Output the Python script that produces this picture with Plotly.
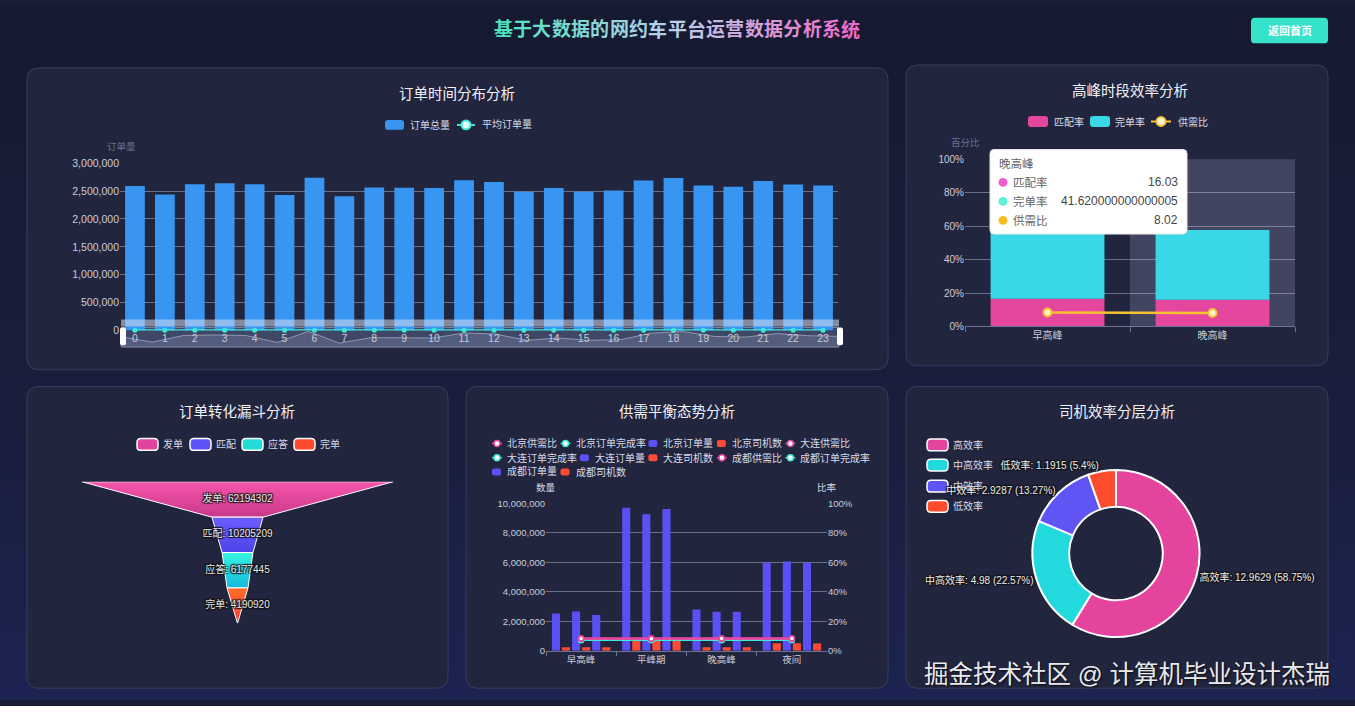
import base64
import plotly.graph_objects as go

# the page adds a few pixels below the figure, so the figure is drawn 706 px tall
W, H = 1355, 706


def X(px):
    return px / W


def Y(py):
    return 1 - py / H


FONT = "'Liberation Sans', 'Noto Sans CJK SC', 'Noto Sans', sans-serif"

# ---------------- data ----------------
page_title = "基于大数据的网约车平台运营数据分析系统"
button_text = "返回首页"
panel_titles = ["订单时间分布分析", "高峰时段效率分析", "订单转化漏斗分析", "供需平衡态势分析", "司机效率分层分析"]
watermark = "掘金技术社区 @ 计算机毕业设计杰瑞"

# chart 1: orders by hour
hours = [str(h) for h in range(24)]
order_total = [2590000, 2440000, 2625000, 2640000, 2625000, 2430000, 2740000, 2410000,
               2565000, 2560000, 2555000, 2695000, 2665000, 2490000, 2555000, 2490000,
               2510000, 2690000, 2735000, 2600000, 2580000, 2680000, 2620000, 2600000]
order_avg = [3597, 3389, 3646, 3667, 3646, 3375, 3806, 3347, 3563, 3556, 3549, 3743,
             3701, 3458, 3549, 3458, 3486, 3736, 3799, 3611, 3583, 3722, 3639, 3611]
c1_series = ["订单总量", "平均订单量"]

# chart 2: peak efficiency
peak_periods = ["早高峰", "晚高峰"]
match_rate = [16.6, 16.03]
complete_rate = [41.0, 41.620000000000005]
supply_ratio = [8.3, 8.02]
c2_series = ["匹配率", "完单率", "供需比"]

# chart 3: funnel
funnel_stages = ["发单", "匹配", "应答", "完单"]
funnel_values = [62194302, 10205209, 6177445, 4190920]

# chart 4: supply / demand balance
periods = ["早高峰", "平峰期", "晚高峰", "夜间"]
bj_orders = [2540000, 9710000, 2810000, 5990000]
dl_orders = [2670000, 9270000, 2650000, 6060000]
cd_orders = [2430000, 9620000, 2650000, 5990000]
bj_drivers = [250000, 670000, 250000, 515000]
dl_drivers = [245000, 665000, 245000, 510000]
cd_drivers = [240000, 660000, 240000, 505000]
bj_ratio = [8.32, 8.35, 8.30, 8.33]
dl_ratio = [8.28, 8.31, 8.26, 8.30]
cd_ratio = [8.35, 8.29, 8.33, 8.31]
bj_complete = [7.35, 7.38, 7.33, 7.36]
dl_complete = [7.31, 7.34, 7.30, 7.33]
cd_complete = [7.37, 7.32, 7.36, 7.34]

# chart 5: driver tiers
tiers = ["高效率", "中高效率", "中效率", "低效率"]
tier_values = [12.9629, 4.98, 2.9287, 1.1915]

# ---------------- colours ----------------
C_BAR1 = "#3896f2"
C_AVG = "#3ee8d8"
C_PINK = "#e6479e"
C_CYAN = "#3ad8e6"
C_GOLD = "#f6c230"
C_PURPLE = "#5b50f5"
C_RED = "#ff4a36"
funnel_grad = [("#f655aa", "#c8388a"), ("#6b5dff", "#4b43e6"),
               ("#34f2de", "#15b6dc"), ("#ff6c2a", "#ff3434")]
funnel_legend_col = ["#e0449c", "#5d53f6", "#22dcd8", "#ff4a30"]
tier_colors = ["#e4449e", "#22d9dd", "#5f55f5", "#ff4c2e"]

# ---------------- helpers ----------------

def rrect(x0, y0, x1, y1, r):
    return (f"M {X(x0 + r)},{Y(y0)} L {X(x1 - r)},{Y(y0)} Q {X(x1)},{Y(y0)} {X(x1)},{Y(y0 + r)} "
            f"L {X(x1)},{Y(y1 - r)} Q {X(x1)},{Y(y1)} {X(x1 - r)},{Y(y1)} "
            f"L {X(x0 + r)},{Y(y1)} Q {X(x0)},{Y(y1)} {X(x0)},{Y(y1 - r)} "
            f"L {X(x0)},{Y(y0 + r)} Q {X(x0)},{Y(y0)} {X(x0 + r)},{Y(y0)} Z")


def box(x0, y0, x1, y1, r, fill, line=None, lw=0, layer="below"):
    return dict(type="path", path=rrect(x0, y0, x1, y1, r), xref="paper", yref="paper",
                fillcolor=fill, line=dict(color=line or "rgba(0,0,0,0)", width=lw), layer=layer)


def circ(cx, cy, r, fill, line=None, lw=0, layer="below"):
    return dict(type="circle", xref="paper", yref="paper", x0=X(cx - r), x1=X(cx + r),
                y0=Y(cy + r), y1=Y(cy - r), fillcolor=fill,
                line=dict(color=line or "rgba(0,0,0,0)", width=lw), layer=layer)


def seg(x0, y0, x1, y1, color, w=2, layer="below"):
    return dict(type="line", xref="paper", yref="paper", x0=X(x0), x1=X(x1), y0=Y(y0), y1=Y(y1),
                line=dict(color=color, width=w), layer=layer)


def txt(x, y, s, size=10, color="#d8dce8", anchor="center", weight=None, shadow=None):
    f = dict(size=size, color=color, family=FONT)
    if weight:
        f["weight"] = weight
    if shadow:
        f["shadow"] = shadow
    return dict(x=X(x), y=Y(y), xref="paper", yref="paper", text=s, showarrow=False,
                xanchor=anchor, yanchor="middle", font=f, borderpad=0)


OUTLINE = "1px 1px 1px #111, -1px -1px 1px #111, 1px -1px 1px #111, -1px 1px 1px #111"

shapes, annos = [], []

# panels
PANEL_FILL, PANEL_LINE = "#21253e", "#383d5c"
for (x0, y0, x1, y1) in [(27, 63, 888, 370), (906, 60, 1328, 366), (27, 387, 448, 694),
                         (466, 387, 888, 694), (906, 387, 1328, 694)]:
    shapes.append(box(x0, y0, x1, y1, 12, PANEL_FILL, PANEL_LINE, 1))

# header
title_w = 19.3
tx0 = 677 - title_w * len(page_title) / 2


def lerp(c1, c2, t):
    return tuple(int(round(a + (b - a) * t)) for a, b in zip(c1, c2))


stops = [(78, 226, 192), (188, 206, 236), (238, 108, 204)]
for i, ch in enumerate(page_title):
    t = i / (len(page_title) - 1)
    col = lerp(stops[0], stops[1], t * 2) if t < 0.5 else lerp(stops[1], stops[2], (t - 0.5) * 2)
    annos.append(txt(tx0 + title_w * (i + 0.5), 24, ch, size=19, color="rgb(%d,%d,%d)" % col, weight=700))
shapes.append(box(1251, 12, 1328, 38, 4, "#34e3c9"))
annos.append(txt(1289.5, 25, button_text, size=11, color="#ffffff", weight=700))

# panel titles
for s, (x, y) in zip(panel_titles, [(457, 90), (1130, 86), (237, 413), (677, 413), (1117, 413)]):
    annos.append(txt(x, y, s, size=14.5, color="#f1f3f9"))

# ---------- chart 1 legend & decorations ----------
shapes.append(box(385, 116, 404, 126, 3, C_BAR1))
annos.append(txt(409, 121, c1_series[0], anchor="left"))
shapes.append(seg(457, 121, 475, 121, C_AVG, 2))
shapes.append(circ(466, 121, 4.5, "#e4fffa", C_AVG, 2))
annos.append(txt(481, 121, c1_series[1], anchor="left"))
annos.append(txt(121, 143, "订单量", size=9.5, color="#6d7290"))
# data-zoom slider look
shapes.append(box(121, 327, 839, 347, 1, "rgba(110,122,165,0.40)", "rgba(200,206,225,0.55)", 1))
shapes.append(dict(type="rect", xref="paper", yref="paper", x0=X(121), x1=X(839), y0=Y(326),
                   y1=Y(319), fillcolor="rgba(215,222,240,0.55)", line=dict(width=0), layer="above"))
shapes.append(box(120, 327, 126, 345, 2, "#ffffff", layer="above"))
shapes.append(box(837, 327, 843, 345, 2, "#ffffff", layer="above"))

# ---------- chart 2 legend & decorations ----------
shapes.append(box(1028, 112, 1048, 123, 3, C_PINK))
annos.append(txt(1053, 117.5, c2_series[0], anchor="left"))
shapes.append(box(1090, 112, 1110, 123, 3, C_CYAN))
annos.append(txt(1114, 117.5, c2_series[1], anchor="left"))
shapes.append(seg(1151, 117.5, 1171, 117.5, C_GOLD, 2))
shapes.append(circ(1161, 117.5, 4.5, "#fff8d8", C_GOLD, 2))
annos.append(txt(1177, 117.5, c2_series[2], anchor="left"))
annos.append(txt(965, 139, "百分比", size=9.5, color="#6d7290"))
shapes.append(dict(type="rect", xref="paper", yref="paper", x0=X(1130), x1=X(1295), y0=Y(326),
                   y1=Y(156), fillcolor="rgba(150,156,190,0.28)", line=dict(width=0), layer="below"))

# ---------- chart 3 legend ----------
for name, col, lx in zip(funnel_stages, funnel_legend_col, [137, 190, 242, 294]):
    shapes.append(box(lx, 440, lx + 21, 452, 4, col, "#ffffff", 1.5))
    annos.append(txt(lx + 25, 446, name, anchor="left"))

# ---------- chart 4 legend ----------
legend_rows = [
    [("北京供需比", "line", C_PINK), ("北京订单完成率", "line", C_AVG), ("北京订单量", "bar", C_PURPLE),
     ("北京司机数", "bar", C_RED), ("大连供需比", "line", C_PINK)],
    [("大连订单完成率", "line", C_AVG), ("大连订单量", "bar", C_PURPLE), ("大连司机数", "bar", C_RED),
     ("成都供需比", "line", C_PINK), ("成都订单完成率", "line", C_AVG)],
    [("成都订单量", "bar", C_PURPLE), ("成都司机数", "bar", C_RED)],
]
for row, ly in zip(legend_rows, [445, 459.5, 474]):
    tx = 506
    for name, kind, col in row:
        cx = tx - 9
        if kind == "line":
            shapes.append(seg(cx - 5, ly, cx + 5, ly, col, 1.5))
            shapes.append(circ(cx, ly, 3, "#ffffff", col, 1.5))
        else:
            shapes.append(box(cx - 5, ly - 3.5, cx + 4, ly + 3.5, 2, col))
        annos.append(txt(tx, ly, name, size=10, anchor="left"))
        tx = tx + len(name) * 9.7 + 20
annos.append(txt(546, 490, "数量", size=9.5, color="#d8dce8"))
annos.append(txt(827, 490, "比率", size=9.5, color="#d8dce8"))

# ---------- chart 5 legend ----------
for name, col, ly in zip(tiers, tier_colors, [446.5, 467, 488.5, 509]):
    shapes.append(box(927, ly - 6, 948, ly + 6, 4, col, "#ffffff", 1.5))
    annos.append(txt(952, ly, name, anchor="left"))

# ---------- tooltip on chart 2 ----------
shapes.append(box(990, 146, 1187, 232, 4, "#ffffff", "#e6e6e6", 1, layer="above"))
annos.append(txt(998, 160, peak_periods[1], size=11.5, color="#666666", anchor="left"))
tip_cols = ["#ee5ccc", "#5ff0d6", "#f9bd22"]
tip_vals = [match_rate[1], complete_rate[1], supply_ratio[1]]
for k, (name, col, v) in enumerate(zip(c2_series, tip_cols, tip_vals)):
    yy = 179.5 + 19.3 * k
    shapes.append(circ(1003, yy, 4.5, col, layer="above"))
    annos.append(txt(1012, yy, name, size=11.5, color="#666666", anchor="left"))
    annos.append(txt(1179, yy, repr(v), size=12, color="#464646", anchor="right"))

# watermark
annos.append(txt(1127, 680, watermark, size=24.5, color="rgba(255,255,255,0.93)",
                 shadow="1px 1px 2px rgba(0,0,0,0.7)"))

# ---------------- traces ----------------
traces = []
# chart 1
traces.append(go.Bar(x=hours, y=order_total, name=c1_series[0], width=0.66, marker=dict(color=C_BAR1, line=dict(width=0)),
                     xaxis="x", yaxis="y", showlegend=False))
traces.append(go.Scatter(x=hours, y=order_avg, name=c1_series[1], mode="lines+markers",
                         line=dict(color=C_AVG, width=2), marker=dict(size=5, color=C_AVG),
                         xaxis="x", yaxis="y", showlegend=False, cliponaxis=False))
traces.append(go.Scatter(x=hours, y=order_total, mode="lines", fill="tozeroy",
                         fillcolor="rgba(185,195,225,0.18)", line=dict(color="rgba(200,208,230,0.55)", width=1),
                         xaxis="x6", yaxis="y6", showlegend=False, hoverinfo="skip"))
# chart 2
traces.append(go.Bar(x=peak_periods, y=match_rate, name=c2_series[0], width=0.69, offset=-0.345,
                     marker=dict(color=C_PINK, line=dict(width=0)), xaxis="x2", yaxis="y2", showlegend=False))
traces.append(go.Bar(x=peak_periods, y=complete_rate, base=match_rate, name=c2_series[1], width=0.69, offset=-0.345,
                     marker=dict(color=C_CYAN, line=dict(width=0)), xaxis="x2", yaxis="y2", showlegend=False))
traces.append(go.Scatter(x=peak_periods, y=supply_ratio, name=c2_series[2], mode="lines+markers",
                         line=dict(color=C_GOLD, width=2.5),
                         marker=dict(size=8, color="#fff3c4", line=dict(color=C_GOLD, width=2)),
                         xaxis="x2", yaxis="y2", showlegend=False))
# chart 3 funnel (each stage drawn as a trapezoid from its value to the next)
for i, (stage, val) in enumerate(zip(funnel_stages, funnel_values)):
    nxt = funnel_values[i + 1] if i + 1 < len(funnel_values) else 0
    a, b = val / 2, nxt / 2
    top, bot = funnel_grad[i]
    traces.append(go.Scatter(x=[-a, a, b, -b, -a], y=[i, i, i + 1, i + 1, i], mode="lines", fill="toself",
                             fillgradient=dict(type="vertical", colorscale=[[0, top], [1, bot]], start=i, stop=i + 1),
                             line=dict(color="#ffffff", width=1), xaxis="x3", yaxis="y3",
                             showlegend=False, hoverinfo="skip"))
traces.append(go.Scatter(x=[0] * len(funnel_stages), y=[i + 0.5 for i in range(len(funnel_stages))],
                         mode="text", text=[f"{s}: {v}" for s, v in zip(funnel_stages, funnel_values)],
                         textfont=dict(size=10, color="#e8e8e8", family=FONT, shadow=OUTLINE),
                         xaxis="x3", yaxis="y3", showlegend=False, hoverinfo="skip"))
# chart 4
for name, vals, col in [("北京订单量", bj_orders, C_PURPLE), ("北京司机数", bj_drivers, C_RED),
                        ("大连订单量", dl_orders, C_PURPLE), ("大连司机数", dl_drivers, C_RED),
                        ("成都订单量", cd_orders, C_PURPLE), ("成都司机数", cd_drivers, C_RED)]:
    traces.append(go.Bar(x=periods, y=vals, name=name, marker=dict(color=col, line=dict(width=0)),
                         xaxis="x4", yaxis="y4", showlegend=False))
for name, vals, col in [("北京订单完成率", bj_complete, C_AVG), ("大连订单完成率", dl_complete, C_AVG),
                        ("成都订单完成率", cd_complete, C_AVG), ("北京供需比", bj_ratio, C_PINK),
                        ("大连供需比", dl_ratio, C_PINK), ("成都供需比", cd_ratio, C_PINK)]:
    traces.append(go.Scatter(x=periods, y=vals, name=name, mode="lines+markers",
                             line=dict(color=col, width=2),
                             marker=dict(size=5, color="#ffffff", line=dict(color=col, width=1.5)),
                             xaxis="x4", yaxis="y5", showlegend=False))
# chart 5
traces.append(go.Pie(labels=tiers, values=tier_values, hole=0.56, sort=False, direction="clockwise", rotation=0,
                     marker=dict(colors=tier_colors, line=dict(color="#ffffff", width=2)),
                     textposition="outside", texttemplate="%{label}: %{value} (%{percent:.2~%})",
                     outsidetextfont=dict(size=10, color="#ededed", family=FONT, shadow=OUTLINE),
                     domain=dict(x=[X(1031), X(1201)], y=[Y(642), Y(472)]), showlegend=False))

fig = go.Figure(data=traces)

TICK1 = dict(size=10.5, color="#c9cdda", family=FONT)
TICK2 = dict(size=10, color="#c9cdda", family=FONT)
TICK4 = dict(size=9.5, color="#c9cdda", family=FONT)
GRID = "rgba(210,215,232,0.42)"
AXLINE = "#6d7290"

fig.update_layout(
    width=W, height=H, margin=dict(l=0, r=0, t=0, b=0),
    paper_bgcolor="#181c36", plot_bgcolor="rgba(0,0,0,0)",
    font=dict(family=FONT, color="#d8dce8"),
    barmode="group", bargap=0.14, bargroupgap=0.2,
    showlegend=False, hovermode=False,
    shapes=shapes, annotations=annos,
    xaxis=dict(domain=[X(120), X(838)], anchor="y", type="category", range=[-0.5, 23.5],
               showgrid=False, showline=False, ticks="", tickfont=TICK1, zeroline=False),
    yaxis=dict(domain=[Y(330), Y(160)], anchor="x", range=[0, 3000000], dtick=500000, tickformat=",",
               gridcolor=GRID, zeroline=False, showline=False, tickfont=TICK1, ticks=""),
    xaxis6=dict(domain=[X(121), X(839)], anchor="y6", type="category", range=[0, 23], visible=False),
    yaxis6=dict(domain=[Y(347), Y(327)], anchor="x6", range=[2300000, 2850000], visible=False),
    xaxis2=dict(domain=[X(965), X(1295)], anchor="y2", type="category", range=[-0.5, 1.5],
                showgrid=False, showline=True, linecolor=AXLINE, ticks="outside", tickson="boundaries",
                ticklen=5, tickcolor=AXLINE, tickfont=TICK2),
    yaxis2=dict(domain=[Y(326), Y(156)], anchor="x2", range=[0, 100], dtick=20, ticksuffix="%",
                gridcolor=GRID, zeroline=False, showline=False, tickfont=TICK2, ticks=""),
    xaxis3=dict(domain=[X(82), X(393)], anchor="y3", range=[-max(funnel_values) / 2, max(funnel_values) / 2],
                visible=False),
    yaxis3=dict(domain=[Y(628), Y(484)], anchor="x3", range=[len(funnel_values), 0], visible=False),
    xaxis4=dict(domain=[X(546), X(827)], anchor="y4", type="category", range=[-0.5, 3.5],
                showgrid=False, showline=True, linecolor=AXLINE, ticks="outside", tickson="boundaries",
                ticklen=4, tickcolor=AXLINE, tickfont=TICK4),
    yaxis4=dict(domain=[Y(656), Y(506)], anchor="x4", range=[0, 10000000], dtick=2000000, tickformat=",",
                gridcolor=GRID, zeroline=False, showline=False, tickfont=TICK4, ticks=""),
    yaxis5=dict(overlaying="y4", anchor="x4", side="right", range=[0, 100], dtick=20, ticksuffix="%",
                showgrid=False, zeroline=False, showline=False, tickfont=TICK4, ticks=""),
)

bg_svg = (f'<svg xmlns="http://www.w3.org/2000/svg" width="{W}" height="{H}">'
          '<defs><linearGradient id="g" x1="0" y1="0" x2="0" y2="1">'
          '<stop offset="0" stop-color="#161a30"/><stop offset="0.6" stop-color="#191e3d"/>'
          '<stop offset="1" stop-color="#1d2352"/></linearGradient></defs>'
          f'<rect width="{W}" height="{H}" fill="url(#g)"/></svg>')
fig.add_layout_image(dict(source="data:image/svg+xml;base64," + base64.b64encode(bg_svg.encode()).decode(),
                          xref="paper", yref="paper", x=0, y=1, sizex=1, sizey=1, sizing="stretch",
                          xanchor="left", yanchor="top", layer="below"))

fig.write_html("out.html")
